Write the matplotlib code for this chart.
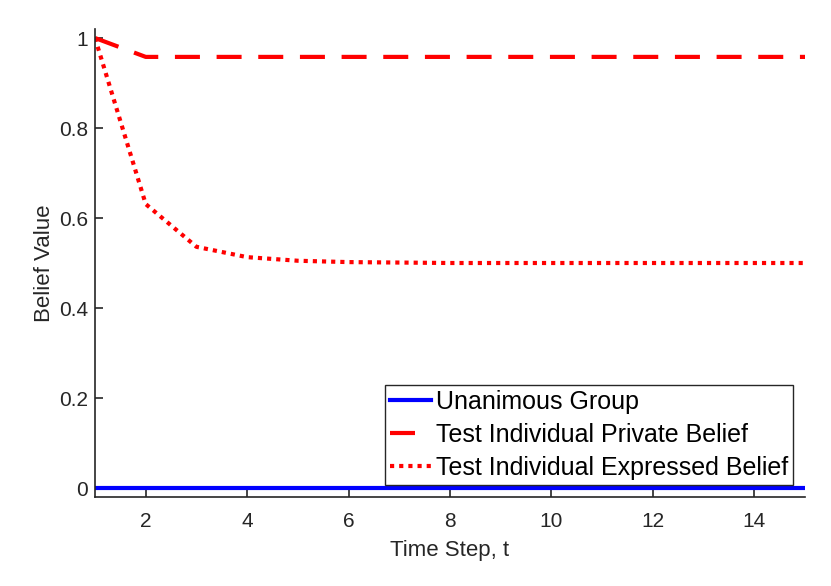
import matplotlib.pyplot as plt

plt.rcParams['font.family'] = ['Liberation Sans', 'DejaVu Sans']

# ---- Data ----
t = list(range(1, 16))
unanimous = [0] * 15
private_belief = [1.0, 0.958, 0.958, 0.958, 0.958, 0.958, 0.958, 0.958,
                  0.958, 0.958, 0.958, 0.958, 0.958, 0.958, 0.958]
expressed_belief = [1.0, 0.631, 0.536, 0.513, 0.505, 0.502, 0.501, 0.5,
                    0.5, 0.5, 0.5, 0.5, 0.5, 0.5, 0.5]

axis_col = '#262626'

# ---- Plot ----
fig = plt.figure(figsize=(8.31, 5.86), dpi=100)
ax = fig.add_axes([95 / 831, 1 - 497 / 586, 710 / 831, 468 / 586])

ax.plot(t, unanimous, color='blue', lw=3, label='Unanimous Group')
ax.plot(t, private_belief, color='red', lw=3, ls=(0, (6, 4)),
        label='Test Individual Private Belief')
ax.plot(t, expressed_belief, color='red', lw=3, ls=(0, (1, 1.2)),
        label='Test Individual Expressed Belief')

ax.set_xlim(1, 15)
ax.set_ylim(-0.02, 1.02)
ax.set_xticks([2, 4, 6, 8, 10, 12, 14])
ax.set_yticks([0, 0.2, 0.4, 0.6, 0.8, 1])
ax.set_yticklabels(['0', '0.2', '0.4', '0.6', '0.8', '1'])

for side in ['top', 'right']:
    ax.spines[side].set_visible(False)
for side in ['left', 'bottom']:
    ax.spines[side].set_color(axis_col)
    ax.spines[side].set_linewidth(1.2)
ax.tick_params(direction='in', length=6, width=1.2, colors=axis_col,
               labelsize=15)
ax.tick_params(axis='x', pad=11)
ax.tick_params(axis='y', pad=5)

ax.set_xlabel('Time Step, t', fontsize=16, color=axis_col, labelpad=6)
ax.set_ylabel('Belief Value', fontsize=16, color=axis_col, labelpad=3)

# legend box sits just above the blue line, lower right
leg = ax.legend(loc='lower right', bbox_to_anchor=(793 / 831, 1 - 485 / 586),
                bbox_transform=fig.transFigure, fontsize=18, frameon=True,
                fancybox=False, handlelength=1.65, handletextpad=0.2,
                borderpad=0.2, labelspacing=0.37, borderaxespad=0)
leg.get_frame().set_edgecolor(axis_col)
leg.get_frame().set_linewidth(1.0)
leg.get_frame().set_alpha(1)

fig.savefig('out.png', dpi=100)
